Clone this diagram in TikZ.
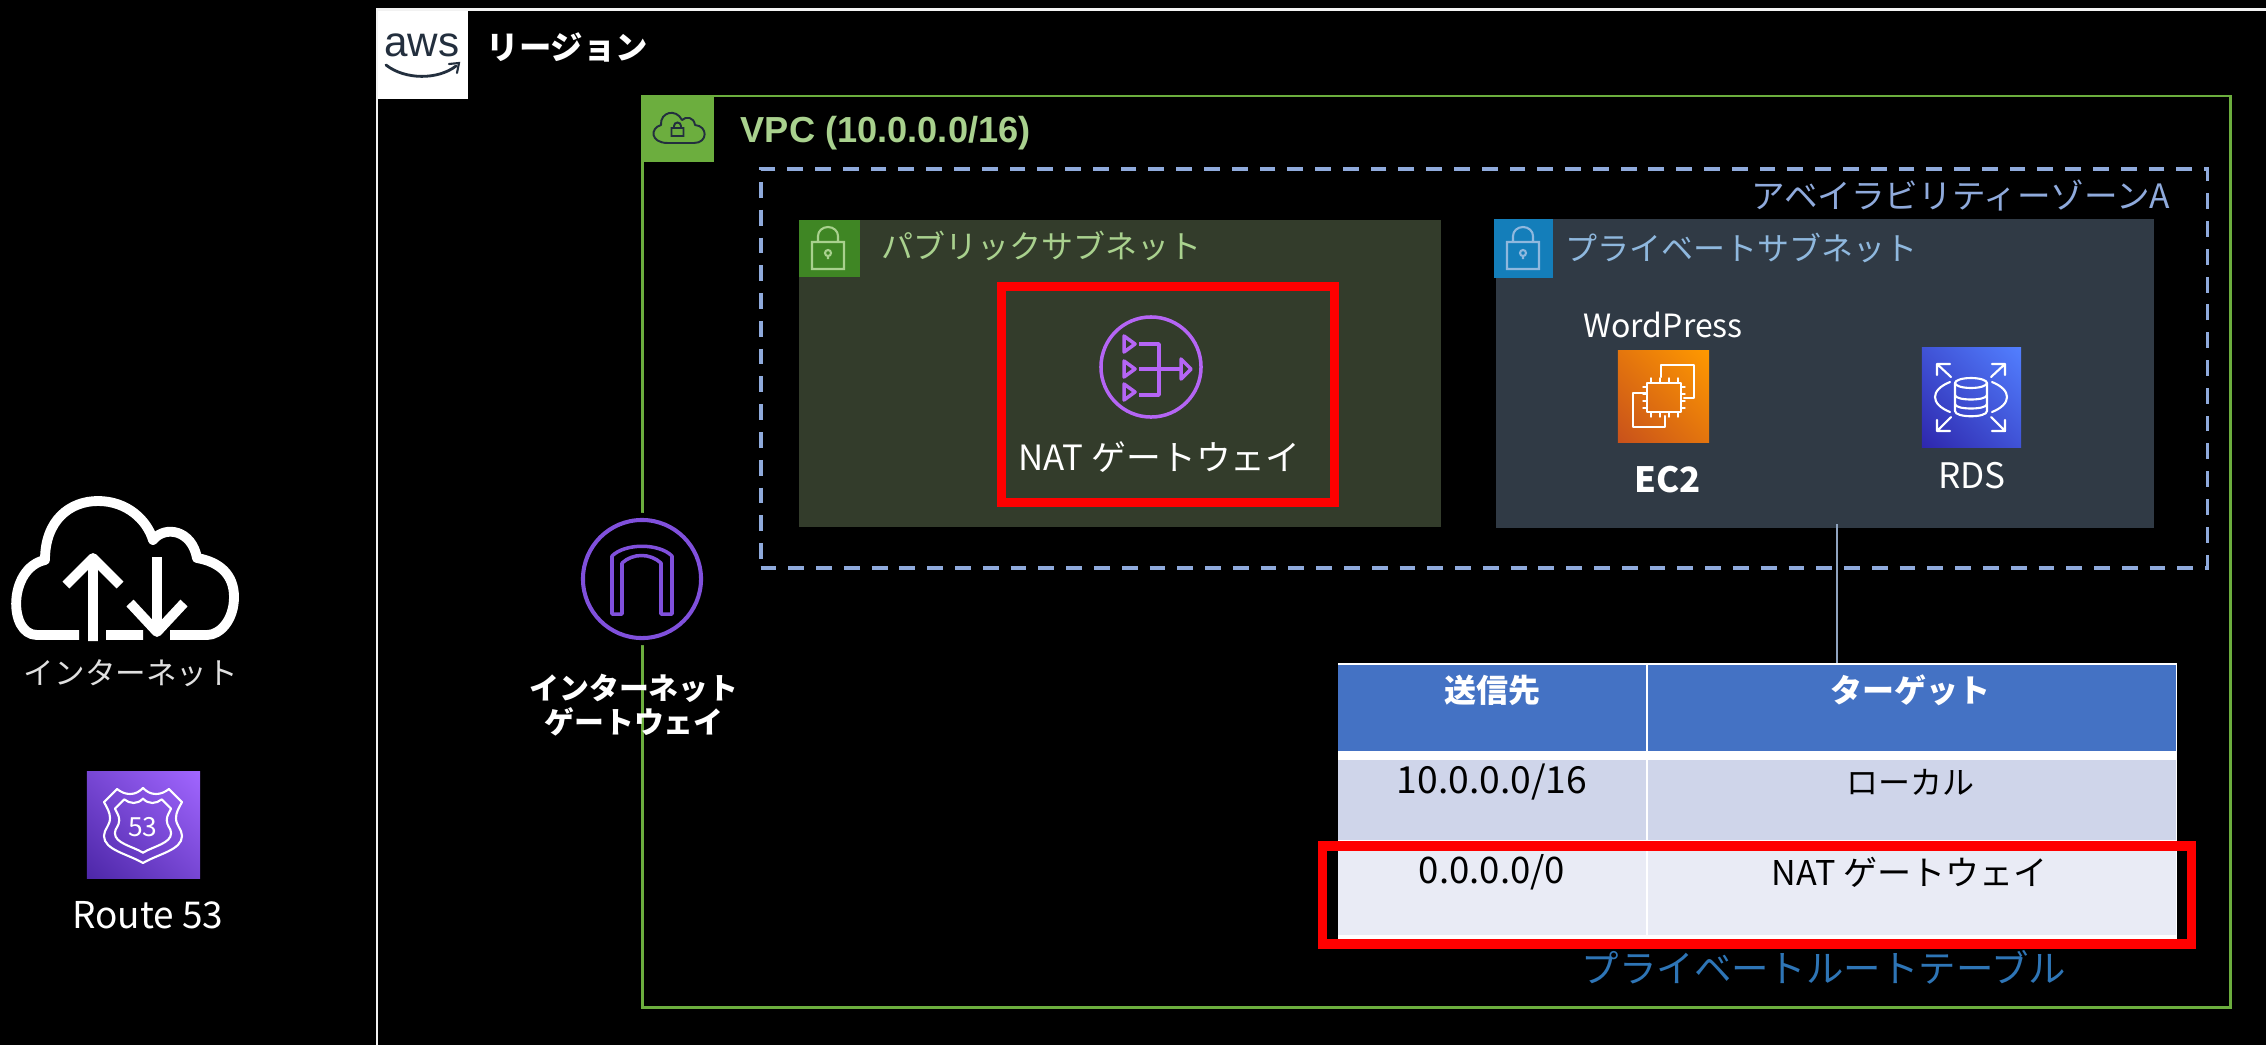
\documentclass[tikz,border=0pt]{standalone}
\usepackage{fontspec}
\usepackage{tikz}
\usetikzlibrary{shadings}
\newfontfamily\jpfont{Noto Sans CJK JP}
\newfontfamily\arialfont{Liberation Sans}

\definecolor{regionline}{HTML}{F2F2F2}
\definecolor{vpcgreen}{HTML}{6CAE3E}
\definecolor{vpctext}{HTML}{A9D18E}
\definecolor{azblue}{HTML}{8FAADC}
\definecolor{pubfill}{HTML}{333C2B}
\definecolor{pubhead}{HTML}{3F8624}
\definecolor{privfill}{HTML}{303A45}
\definecolor{privhead}{HTML}{147EBA}
\definecolor{privtext}{HTML}{8FB8DE}
\definecolor{natpurple}{HTML}{B565F5}
\definecolor{igwpurple}{HTML}{8050DC}
\definecolor{awsnavy}{HTML}{232F3E}
\definecolor{rthead}{HTML}{4472C4}
\definecolor{rtrowa}{HTML}{CFD5EA}
\definecolor{rtrowb}{HTML}{E9EBF5}
\definecolor{rtlabel}{HTML}{2E75B6}
\definecolor{linkgrey}{HTML}{8FA3BF}
\definecolor{ectwolow}{HTML}{C8511B}
\definecolor{ectwohigh}{HTML}{FF9900}
\definecolor{rdslow}{HTML}{2E27AD}
\definecolor{rdshigh}{HTML}{527FFF}
\definecolor{rfiftylow}{HTML}{4D27A8}
\definecolor{rfiftyhigh}{HTML}{A166FF}

\tikzset{
    lbl/.style={font=\jpfont\fontsize{#1}{#1}\selectfont,inner sep=0pt,text=white},
    lblb/.style={font=\jpfont\bfseries\fontsize{#1}{#1}\selectfont,inner sep=0pt,text=white},
    box/.style n args={2}{rectangle,inner sep=0pt,outer sep=0pt,minimum width=#1,minimum height=#2},
    gradicon/.style n args={2}{shading=bilinear interpolation,
        lower left=#1,upper right=#2,upper left=#1!50!#2,lower right=#1!50!#2},
    iconline/.style={draw=white,line width=0.6pt,line join=round,line cap=round},
    redframe/.style={draw=red,line width=2.6pt,fill=none}
}

% Padlock of a subnet header, #1 x offset, #2 colour
\newcommand{\lockicon}[2]{
    \draw[#2,line width=0.6pt,shift={(#1,0)}]
        (1507,242) rectangle (1539,269)
        (1513,242) -- (1513,236) arc[start angle=180,end angle=360,x radius=10,y radius=9] -- (1533,242)
        (1523,259) -- (1523,256);
    \draw[#2,line width=0.6pt,shift={(#1,0)}] (1523,253) circle[radius=3];
}

\begin{document}
\begin{tikzpicture}[x=0.01cm,y=-0.01cm]
    \useasboundingbox (0,0) rectangle (2266,1045);
    \fill[black] (0,0) rectangle (2266,1045);

    % Region frame
    \draw[regionline,line width=0.85pt] (377,1045) -- (377,9.5) -- (2266,9.5);
    \node[box={0.9cm}{0.88cm},fill=white] (awstile) at (423,55) {};
    \node[font=\arialfont\fontsize{12}{12}\selectfont,text=awsnavy,inner sep=0pt] (awslogo) at (422,45) {aws};
    \draw[awsnavy,line width=0.8pt,line cap=round] (386,65) .. controls (405,80) and (438,80) .. (456,66);
    \draw[awsnavy,line width=0.6pt,line cap=round] (449,64) -- (459,63) -- (457,73);
    \node[lblb=9.2,anchor=west] (regionlbl) at (486,47) {リージョン};

    % VPC
    \node[box={15.87cm}{9.11cm},draw=vpcgreen,line width=0.7pt] (vpc) at (1436.5,551.5) {};
    \node[box={0.71cm}{0.66cm},fill=vpcgreen] (vpchead) at (678.5,128.5) {};
    \draw[awsnavy,line width=0.55pt,line join=round]
        (668,143) -- (694,143) .. controls (708,143) and (708,126) .. (695,125)
        .. controls (694,117) and (686,116) .. (682,120)
        .. controls (676,108) and (660,112) .. (661,125)
        .. controls (650,128) and (650,143) .. (668,143) -- cycle;
    \draw[awsnavy,line width=0.55pt] (671.5,128) rectangle (683.5,136)
        (674,128) -- (674,126) arc[start angle=180,end angle=360,radius=3.5] -- (681,128);
    \node[font=\arialfont\bfseries\fontsize{10.3}{11}\selectfont,text=vpctext,inner sep=0pt,anchor=west] (vpclbl) at (740,133) {VPC (10.0.0.0/16)};

    % Availability zone
    \node[box={14.46cm}{3.99cm},draw=azblue,line width=1.1pt,dash pattern=on 4.5pt off 3.4pt] (az) at (1484,368.5) {};
    \node[lbl=9.55,text=azblue,anchor=east] (azlbl) at (2171,195) {アベイラビリティーゾーンA};

    % Public subnet
    \node[box={6.42cm}{3.07cm},fill=pubfill] (pubnet) at (1120,373.5) {};
    \node[box={0.61cm}{0.57cm},fill=pubhead] (pubhead) at (829.5,248.5) {};
    \lockicon{-695}{vpctext}
    \node[lbl=9.1,text=vpctext,anchor=west] (publbl) at (881,246) {パブリックサブネット};
    \node[box={3.33cm}{2.16cm},redframe] (natframe) at (1168,394.5) {};

    % NAT gateway icon
    \node[circle,draw=natpurple,line width=1pt,minimum size=1.0cm,inner sep=0pt] (nat) at (1151,367) {};
    \foreach \y in {344,369,392} {
      \draw[natpurple,line width=1pt,line join=round] (1124,\y-8) -- (1135,\y) -- (1124,\y+8) -- cycle;
    }
    \draw[natpurple,line width=1pt,line join=round]
        (1139,344) -- (1159,344) -- (1159,395) -- (1139,395)
        (1139,369) -- (1180,369);
    \draw[natpurple,line width=1pt,line join=round] (1181,359) -- (1191,369) -- (1181,379) -- cycle;
    \node[lbl=9.9,anchor=west] (natlbl) at (1018,457) {NAT ゲートウェイ};

    % Private subnet
    \node[box={6.58cm}{3.09cm},fill=privfill] (privnet) at (1825,373.5) {};
    \node[box={0.59cm}{0.59cm},fill=privhead] (privhead) at (1523.5,248.5) {};
    \lockicon{0}{privtext}
    \node[lbl=9.1,text=privtext,anchor=west] (privlbl) at (1565,248) {プライベートサブネット};

    % EC2 icon
    \node[lbl=9.1] (wplbl) at (1663,325) {WordPress};
    \node[box={0.91cm}{0.91cm},gradicon={ectwolow}{ectwohigh}] (ec2) at (1663.5,396.5) {};
    \draw[iconline] (1661,377) -- (1661,365) -- (1694,365) -- (1694,398) -- (1684,398);
    \draw[iconline] (1646,393) -- (1633,393) -- (1633,427) -- (1665,427) -- (1665,416);
    \draw[iconline] (1647,383) rectangle (1681,412);
    \foreach \p in {0,1,2,3} {
      \draw[iconline,line width=0.4pt] (1651+9*\p,383) -- (1651+9*\p,378) (1651+9*\p,412) -- (1651+9*\p,417);
      \draw[iconline,line width=0.4pt] (1647,387+7*\p) -- (1643,387+7*\p) (1681,387+7*\p) -- (1685,387+7*\p);
    }
    \node[lblb=9.9] (ec2lbl) at (1668,480) {EC2};

    % RDS icon
    \node[box={0.99cm}{0.99cm},gradicon={rdslow}{rdshigh}] (rds) at (1971.5,397.5) {};
    \draw[iconline] (1955,383) -- (1955,411) .. controls (1955,418) and (1987,418) .. (1987,411) -- (1987,383);
    \draw[iconline] (1971,383) ellipse[x radius=16,y radius=5];
    \draw[iconline] (1955,395) .. controls (1955,401) and (1987,401) .. (1987,395)
        (1955,404) .. controls (1955,410) and (1987,410) .. (1987,404);
    \draw[iconline] (1950,382) .. controls (1930,390) and (1930,404) .. (1950,412)
        (1992,382) .. controls (2012,390) and (2012,404) .. (1992,412);
    \draw[iconline] (1951,377) -- (1937,364) (1937,375) -- (1937,364) -- (1950,364)
        (1991,377) -- (2005,364) (2005,375) -- (2005,364) -- (1992,364)
        (1951,417) -- (1937,431) (1937,420) -- (1937,431) -- (1950,431)
        (1991,417) -- (2005,431) (2005,420) -- (2005,431) -- (1992,431);
    \node[lbl=10] (rdslbl) at (1972,476) {RDS};

    % Route table
    \coordinate (rtlink) at (1837,524);
    \node[box={8.39cm}{2.76cm},fill=white] (rtable) at (1757.5,801) {};
    \draw[linkgrey,line width=0.55pt] (rtlink) -- (rtable.north -| rtlink);
    \foreach \cx/\cw/\cy/\ch/\col/\cname in {
        1492/3.07/708/0.86/rthead/ha, 1912/5.28/708/0.86/rthead/hb,
        1492/3.07/800/0.80/rtrowa/ra, 1912/5.28/800/0.80/rtrowa/rb,
        1492/3.07/888/0.94/rtrowb/sa, 1912/5.28/888/0.94/rtrowb/sb} {
      \node[box={\cw cm}{\ch cm},fill=\col] (\cname) at (\cx,\cy) {};
    }
    \node[lblb=9.1] (rtdest) at (1492,690) {送信先};
    \node[lblb=9.1] (rttarget) at (1910,690) {ターゲット};
    \node[lbl=10.6,text=black] (rtdesta) at (1492,782) {10.0.0.0/16};
    \node[lbl=9.1,text=black] (rtlocal) at (1910,782) {ローカル};
    \node[lbl=10.4,text=black] (rtdestb) at (1492,872) {0.0.0.0/0};
    \node[lbl=9.7,text=black] (rtnat) at (1910,872) {NAT ゲートウェイ};
    \node[box={8.68cm}{0.98cm},redframe] (rtframe) at (1757,895) {};
    \node[lbl=10.65,text=rtlabel] (rtlbl) at (1824,967) {プライベートルートテーブル};

    % Internet gateway
    \node[circle,fill=black,minimum size=1.32cm,inner sep=0pt] (igwgap) at (642,579) {};
    \node[circle,draw=igwpurple,line width=1.15pt,minimum size=1.18cm,inner sep=0pt] (igw) at (642,579) {};
    \draw[igwpurple,line width=1pt,line join=round]
        (612,614) -- (612,556) .. controls (625,543) and (659,543) .. (672,556) -- (672,614)
        -- (661,614) -- (661,563) .. controls (650,553) and (633,553) .. (622,563) -- (622,614) -- cycle;
    \node[lblb=8.5,align=center] (igwlbl) at (634,705) {インターネット\\[1.2pt]ゲートウェイ};

    % Internet
    \draw[white,line width=2.8pt,line join=round]
        (79,635) -- (37,635) .. controls (8,635) and (8,568) .. (45,560)
        .. controls (45,520) and (70,501) .. (98,501)
        .. controls (127,501) and (147,520) .. (153,540)
        .. controls (165,525) and (192,530) .. (197,558)
        .. controls (220,562) and (234,575) .. (234,597)
        .. controls (234,620) and (220,635) .. (207,635) -- (170,635)
        (106,635) -- (143,635);
    \draw[white,line width=2.8pt,line join=round,line cap=butt]
        (93,641) -- (93,558) (66,585) -- (93,558) -- (120,585)
        (157,557) -- (157,632) (130,603) -- (157,632) -- (184,603);
    \node[lbl=8.7,text=white!88!black] (inetlbl) at (131,673) {インターネット};

    % Route 53
    \node[box={1.13cm}{1.06cm},gradicon={rfiftylow}{rfiftyhigh}] (rfiftythree) at (143.5,825) {};
    \foreach \s in {1,0.72} {
      \foreach \m in {1,-1} {
        \draw[iconline,shift={(143,826)},xscale=\m,scale=\s]
            (0,-38) .. controls (4,-34) and (8,-32) .. (13,-32)
            .. controls (18,-32) and (22,-34) .. (26,-37) -- (39,-24)
            .. controls (36,-18) and (33,-14) .. (33,-8)
            .. controls (33,0) and (39,3) .. (39,10)
            .. controls (39,24) and (15,28) .. (0,37);
      }
    }
    \node[lbl=7.5] (rfiftylbl) at (143,827) {53};
    \node[lbl=10.5] (routelbl) at (148,915) {Route 53};
\end{tikzpicture}
\end{document}
